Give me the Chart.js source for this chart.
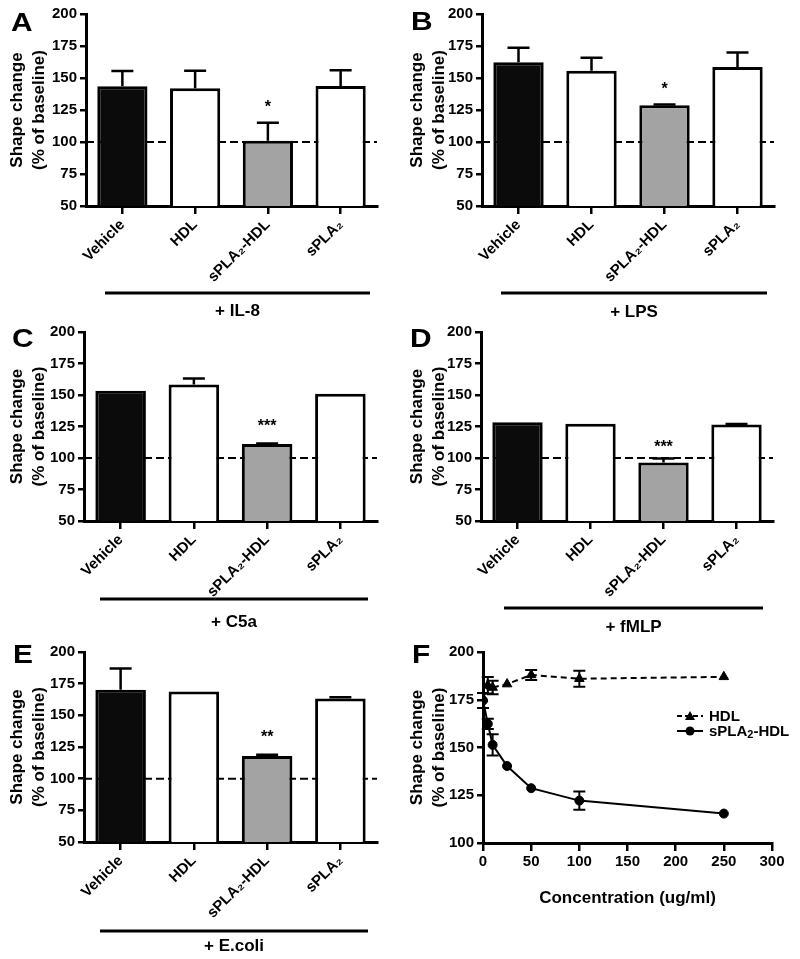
<!DOCTYPE html>
<html>
<head>
<meta charset="utf-8">
<script src="https://cdn.jsdelivr.net/npm/chart.js@4.4.1/dist/chart.umd.min.js"></script>
<style>
  body { margin: 0; background: #fff; }
  #figure { position: relative; width: 800px; height: 959px; background: #fff; }
  #figure canvas { position: absolute; }
</style>
</head>
<body>
<div id="figure"></div>
<script>
// categories and tick labels
var categories = ['Vehicle', 'HDL', 'sPLA\u2082-HDL', 'sPLA\u2082']
var barTicks = [50, 75, 100, 125, 150, 175, 200]

// bar panels: mean, upper error (SEM), significance
var il8Means = [143.5, 142, 101, 143.8]
var il8Errs = [12, 13.7, 14, 12.3]
var il8Stars = ['', '', '*', '']

var lpsMeans = [162.3, 155.7, 128.7, 158.6]
var lpsErrs = [11.4, 10.2, 0.5, 11.4]
var lpsStars = ['', '', '*', '']

var c5aMeans = [153.4, 158.3, 111.2, 151]
var c5aErrs = [0, 4.8, 0.4, 0]
var c5aStars = ['', '', '***', '']

var fmlpMeans = [128.4, 127.2, 96.5, 126.6]
var fmlpErrs = [0, 0, 3.2, 0.4]
var fmlpStars = ['', '', '***', '']

var ecoliMeans = [170.2, 168.9, 117.9, 163.2]
var ecoliErrs = [16.8, 0, 1, 1]
var ecoliStars = ['', '', '**', '']

// panel F: dose response
var concTicks = [0, 50, 100, 150, 200, 250, 300]
var fTicks = [100, 125, 150, 175, 200]
var hdlConc = [0, 5, 10, 25, 50, 100, 250]
var hdlMeans = [175.5, 182.6, 181.4, 183.2, 188, 186, 187]
var hdlErrs = [0, 4.3, 3.5, 0, 2.6, 4.2, 0]
var splaConc = [0, 5, 10, 25, 50, 100, 250]
var splaMeans = [174.6, 162.4, 151.4, 140.3, 128.7, 122.2, 115.4]
var splaErrs = [3.9, 2.7, 5.6, 0, 0, 4.8, 0]

Chart.defaults.font.family = "'Liberation Sans', Arial, sans-serif"
Chart.defaults.font.weight = 'bold'
Chart.defaults.color = '#000'

var barFills = ['#0b0b0b', '#ffffff', '#a3a3a3', '#ffffff']
var FONT = "'Liberation Sans', Arial, sans-serif"

function makeCanvas(box) {
	var c = document.createElement('canvas')
	c.width = box[2]
	c.height = box[3]
	c.style.left = box[0] + 'px'
	c.style.top = box[1] + 'px'
	document.getElementById('figure').appendChild(c)
	return c
}

// text with a subscript "2" written as parts: [text, sub, text]
function drawSubText(ctx, parts, x, y, size) {
	var cx = x
	parts.forEach(function (p, i) {
		if (i % 2 === 1) {
			ctx.font = 'bold ' + Math.round(size * 0.7) + 'px ' + FONT
			ctx.fillText(p, cx, y + size * 0.22)
		} else {
			ctx.font = 'bold ' + size + 'px ' + FONT
			ctx.fillText(p, cx, y)
		}
		cx += ctx.measureText(p).width
	})
}

function drawLetter(ctx, letter, x, y) {
	ctx.save()
	ctx.fillStyle = '#000'
	ctx.font = 'bold 26px ' + FONT
	ctx.textBaseline = 'alphabetic'
	ctx.translate(x, y)
	ctx.scale(1.15, 1)
	ctx.fillText(letter, 0, 0)
	ctx.restore()
}

function yTitle() {
	return {
		display: true,
		text: ['Shape change', '(% of baseline)'],
		font: { size: 17, weight: 'bold', lineHeight: 1.3 },
		padding: { top: 6, bottom: 0 },
	}
}

function barPanel(p) {
	var canvas = makeCanvas(p.box)
	var W = p.box[2], H = p.box[3]
	var area = p.area

	var extras = {
		id: 'extras',
		beforeDatasetsDraw: function (chart) {
			var ctx = chart.ctx, a = chart.chartArea
			var y = chart.scales.y.getPixelForValue(100)
			ctx.save()
			ctx.setLineDash([8, 4])
			ctx.lineWidth = 2
			ctx.strokeStyle = '#000'
			ctx.beginPath()
			ctx.moveTo(a.left, y)
			ctx.lineTo(a.right, y)
			ctx.stroke()
			ctx.restore()
		},
		afterDatasetsDraw: function (chart) {
			var ctx = chart.ctx, ys = chart.scales.y
			var bars = chart.getDatasetMeta(0).data
			ctx.save()
			ctx.strokeStyle = '#000'
			ctx.fillStyle = '#000'
			ctx.lineWidth = 2.5
			bars.forEach(function (bar, i) {
				var top = ys.getPixelForValue(p.means[i] + p.errs[i])
				if (p.errs[i] > 0) {
					ctx.beginPath()
					ctx.moveTo(bar.x, bar.y)
					ctx.lineTo(bar.x, top)
					ctx.moveTo(bar.x - 11, top)
					ctx.lineTo(bar.x + 11, top)
					ctx.stroke()
				}
				if (p.stars[i]) {
					ctx.font = 'bold 16px ' + FONT
					ctx.textAlign = 'center'
					ctx.textBaseline = 'middle'
					ctx.fillText(p.stars[i], bar.x, top - p.starGap + 3)
				}
			})
			ctx.restore()
		},
		afterDraw: function (chart) {
			var ctx = chart.ctx
			drawLetter(ctx, p.letter, p.letterPos[0], p.letterPos[1])
			ctx.save()
			ctx.strokeStyle = '#000'
			ctx.lineWidth = 3
			ctx.beginPath()
			ctx.moveTo(p.bracket[0], p.bracket[2])
			ctx.lineTo(p.bracket[1], p.bracket[2])
			ctx.stroke()
			ctx.fillStyle = '#000'
			ctx.font = 'bold 17px ' + FONT
			ctx.textAlign = 'center'
			ctx.textBaseline = 'middle'
			ctx.fillText(p.label, (p.bracket[0] + p.bracket[1]) / 2, p.labelY)
			ctx.restore()
		},
	}

	new Chart(canvas, {
		type: 'bar',
		data: {
			labels: categories,
			datasets: [{
				data: p.means,
				backgroundColor: barFills,
				borderColor: '#000',
				borderWidth: 3,
				categoryPercentage: 1,
				barPercentage: 0.69,
			}],
		},
		options: {
			responsive: false,
			animation: false,
			events: [],
			layout: { padding: { top: area[1], right: W - area[2], left: 0, bottom: 0 } },
			plugins: { legend: { display: false }, tooltip: { enabled: false } },
			scales: {
				x: {
					z: 1,
					grid: { offset: false, drawOnChartArea: false, tickLength: 8, lineWidth: 2.5, color: '#000' },
					border: { width: 3, color: '#000' },
					ticks: { minRotation: 45, maxRotation: 45, font: { size: 15, weight: 'bold' }, padding: 2 },
					afterFit: function (s) { s.height = H - area[3] },
				},
				y: {
					min: 50,
					max: 200,
					z: 1,
					afterBuildTicks: function (s) { s.ticks = barTicks.map(function (v) { return { value: v } }) },
					ticks: { font: { size: 15, weight: 'bold' }, padding: 3 },
					grid: { drawOnChartArea: false, tickLength: 6, lineWidth: 2.5, color: '#000' },
					border: { width: 3, color: '#000' },
					title: yTitle(),
					afterFit: function (s) { s.width = area[0] },
				},
			},
		},
		plugins: [extras],
	})
}

barPanel({ letter: 'A', box: [0, 0, 400, 320], area: [86, 14, 377, 206], letterPos: [11, 31],
	means: il8Means, errs: il8Errs, stars: il8Stars, starGap: 18,
	bracket: [105, 370, 293], label: '+ IL-8', labelY: 311 })
barPanel({ letter: 'B', box: [400, 0, 400, 320], area: [82, 14, 374, 206], letterPos: [11, 30],
	means: lpsMeans, errs: lpsErrs, stars: lpsStars, starGap: 18,
	bracket: [101, 367, 293], label: '+ LPS', labelY: 312 })
barPanel({ letter: 'C', box: [0, 320, 400, 320], area: [84, 7, 377, 201], letterPos: [12, 27],
	means: c5aMeans, errs: c5aErrs, stars: c5aStars, starGap: 20,
	bracket: [100, 368, 279], label: '+ C5a', labelY: 302 })
barPanel({ letter: 'D', box: [400, 320, 400, 320], area: [81, 7, 373, 201], letterPos: [10, 27],
	means: fmlpMeans, errs: fmlpErrs, stars: fmlpStars, starGap: 14,
	bracket: [104, 363, 288], label: '+ fMLP', labelY: 307 })
barPanel({ letter: 'E', box: [0, 640, 400, 319], area: [84, 8, 377, 202], letterPos: [13, 23],
	means: ecoliMeans, errs: ecoliErrs, stars: ecoliStars, starGap: 20,
	bracket: [100, 368, 291], label: '+ E.coli', labelY: 306 })

// panel F
;(function () {
	var box = [400, 640, 400, 319]
	var area = [83, 9, 372, 203]
	var canvas = makeCanvas(box)
	var W = box[2], H = box[3]
	var errs = [hdlErrs, splaErrs]

	var extras = {
		id: 'extras',
		afterDatasetsDraw: function (chart) {
			var ctx = chart.ctx, ys = chart.scales.y
			ctx.save()
			ctx.strokeStyle = '#000'
			ctx.lineWidth = 2
			chart.data.datasets.forEach(function (ds, d) {
				chart.getDatasetMeta(d).data.forEach(function (pt, i) {
					var e = errs[d][i]
					if (!e) return
					var v = ds.data[i].y
					var y1 = ys.getPixelForValue(v + e), y2 = ys.getPixelForValue(v - e)
					ctx.beginPath()
					ctx.moveTo(pt.x, y1)
					ctx.lineTo(pt.x, y2)
					ctx.moveTo(pt.x - 6, y1)
					ctx.lineTo(pt.x + 6, y1)
					ctx.moveTo(pt.x - 6, y2)
					ctx.lineTo(pt.x + 6, y2)
					ctx.stroke()
				})
			})
			ctx.restore()
		},
		afterDraw: function (chart) {
			var ctx = chart.ctx
			drawLetter(ctx, 'F', 12, 23)
			// legend
			var lx = 277, rows = [76, 91]
			ctx.save()
			ctx.strokeStyle = '#000'
			ctx.fillStyle = '#000'
			ctx.lineWidth = 2
			// HDL
			ctx.setLineDash([5, 3])
			ctx.beginPath()
			ctx.moveTo(lx, rows[0])
			ctx.lineTo(lx + 26, rows[0])
			ctx.stroke()
			ctx.setLineDash([])
			ctx.beginPath()
			ctx.moveTo(lx + 13, rows[0] - 5)
			ctx.lineTo(lx + 18, rows[0] + 4)
			ctx.lineTo(lx + 8, rows[0] + 4)
			ctx.closePath()
			ctx.fill()
			// sPLA2-HDL
			ctx.beginPath()
			ctx.moveTo(lx, rows[1])
			ctx.lineTo(lx + 26, rows[1])
			ctx.stroke()
			ctx.beginPath()
			ctx.arc(lx + 13, rows[1], 4.5, 0, Math.PI * 2)
			ctx.fill()
			ctx.textBaseline = 'middle'
			drawSubText(ctx, ['HDL'], lx + 32, rows[0] + 1, 15)
			drawSubText(ctx, ['sPLA', '2', '-HDL'], lx + 32, rows[1] + 1, 15)
			ctx.restore()
		},
	}

	new Chart(canvas, {
		type: 'line',
		data: {
			datasets: [
				{
					label: 'HDL',
					data: hdlConc.map(function (x, i) { return { x: x, y: hdlMeans[i] } }),
					borderColor: '#000',
					backgroundColor: '#000',
					borderWidth: 2,
					borderDash: [6, 4],
					pointStyle: 'triangle',
					pointRadius: 5.5,
					pointBorderWidth: 1,
					order: 2,
				},
				{
					label: 'sPLA\u2082-HDL',
					data: splaConc.map(function (x, i) { return { x: x, y: splaMeans[i] } }),
					borderColor: '#000',
					backgroundColor: '#000',
					borderWidth: 2,
					pointStyle: 'circle',
					pointRadius: 4.5,
					pointBorderWidth: 1,
					order: 1,
				},
			],
		},
		options: {
			responsive: false,
			animation: false,
			events: [],
			layout: { padding: { top: area[1], right: W - area[2], left: 0, bottom: 0 } },
			plugins: { legend: { display: false }, tooltip: { enabled: false } },
			scales: {
				x: {
					type: 'linear',
					min: 0,
					max: 300,
					afterBuildTicks: function (s) { s.ticks = concTicks.map(function (v) { return { value: v } }) },
					grid: { drawOnChartArea: false, tickLength: 8, lineWidth: 2.5, color: '#000' },
					border: { width: 3, color: '#000' },
					ticks: { font: { size: 15, weight: 'bold' }, padding: 2, maxRotation: 0 },
					title: { display: true, text: 'Concentration (ug/ml)', font: { size: 17, weight: 'bold' }, padding: { top: 4, bottom: 50 } },
					afterFit: function (s) { s.height = H - area[3] },
				},
				y: {
					min: 100,
					max: 200,
					afterBuildTicks: function (s) { s.ticks = fTicks.map(function (v) { return { value: v } }) },
					ticks: { font: { size: 15, weight: 'bold' }, padding: 3 },
					grid: { drawOnChartArea: false, tickLength: 6, lineWidth: 2.5, color: '#000' },
					border: { width: 3, color: '#000' },
					title: yTitle(),
					afterFit: function (s) { s.width = area[0] },
				},
			},
		},
		plugins: [extras],
	})
})()
</script>
</body>
</html>
